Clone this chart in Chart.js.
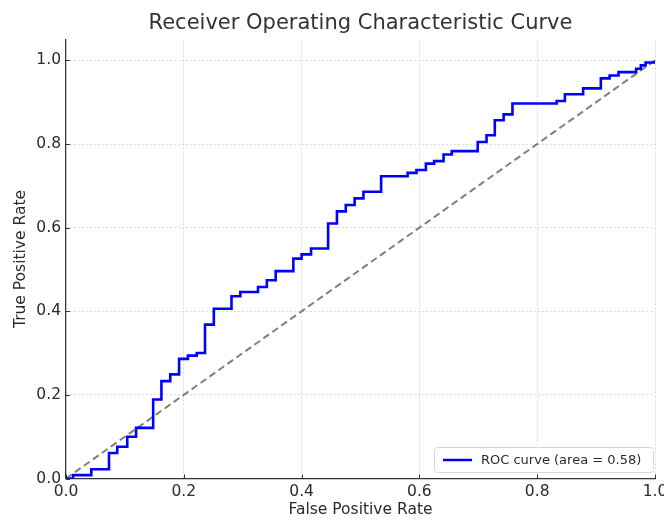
<!DOCTYPE html>
<html>
<head>
<meta charset="utf-8">
<script src="https://cdn.jsdelivr.net/npm/chart.js@4"></script>
<style>
  html, body { margin: 0; padding: 0; background: #fff; }
  #wrap { width: 664px; height: 521px; position: relative; }
</style>
</head>
<body>
<div id="wrap"><canvas id="rocChart"></canvas></div>
<script>
// ROC curve corners
const fpr = [0.0, 0.012, 0.043, 0.073, 0.087, 0.104, 0.119, 0.148, 0.162, 0.177, 0.192, 0.207, 0.222,
  0.236, 0.251, 0.281, 0.296, 0.326, 0.341, 0.356, 0.386, 0.400, 0.416, 0.445, 0.460, 0.475, 0.490,
  0.505, 0.535, 0.580, 0.595, 0.611, 0.625, 0.641, 0.655, 0.699, 0.714, 0.728, 0.743, 0.758, 0.833,
  0.847, 0.878, 0.908, 0.923, 0.938, 0.968, 0.976, 0.984, 1.0];
const tpr = [0.0, 0.008, 0.022, 0.061, 0.076, 0.100, 0.121, 0.189, 0.233, 0.249, 0.286, 0.294, 0.300,
  0.368, 0.406, 0.436, 0.446, 0.458, 0.474, 0.496, 0.526, 0.536, 0.550, 0.610, 0.639, 0.654, 0.670,
  0.686, 0.723, 0.731, 0.738, 0.753, 0.759, 0.775, 0.783, 0.805, 0.821, 0.857, 0.871, 0.897, 0.903,
  0.919, 0.933, 0.957, 0.964, 0.972, 0.980, 0.988, 0.995, 1.0];
const chanceLine = [0, 1];
const xTicks = [0, 0.2, 0.4, 0.6, 0.8, 1.0];
const yTicks = [0, 0.2, 0.4, 0.6, 0.8, 1.0];
const rocLabel = 'ROC curve (area = 0.58)';

const FONT = "'DejaVu Sans', sans-serif";
const TEXT = '#2b2b2b';

// title centred over the plot area, inward tick marks, legend box in lower right
const extras = {
  id: 'extras',
  afterDraw(chart) {
    const ctx = chart.ctx;
    const area = chart.chartArea;
    const xs = chart.scales.x, ys = chart.scales.y;
    ctx.save();

    // title
    ctx.fillStyle = '#333';
    ctx.font = '21px ' + FONT;
    ctx.textAlign = 'center';
    ctx.textBaseline = 'middle';
    ctx.fillText('Receiver Operating Characteristic Curve', (area.left + area.right) / 2, 24);

    // ticks pointing inwards
    ctx.strokeStyle = '#333';
    ctx.lineWidth = 1;
    ctx.beginPath();
    xTicks.forEach(v => {
      const px = Math.round(xs.getPixelForValue(v)) + 0.5;
      ctx.moveTo(px, area.bottom);
      ctx.lineTo(px, area.bottom - 4);
    });
    yTicks.forEach(v => {
      const py = Math.round(ys.getPixelForValue(v)) + 0.5;
      ctx.moveTo(area.left, py);
      ctx.lineTo(area.left + 4, py);
    });
    ctx.stroke();

    // legend
    const bx = 434, by = 447, bw = 219, bh = 25;
    ctx.fillStyle = 'rgba(255,255,255,0.85)';
    ctx.strokeStyle = '#d6d6d6';
    ctx.beginPath();
    ctx.roundRect(bx + 0.5, by + 0.5, bw, bh, 3);
    ctx.fill();
    ctx.stroke();
    ctx.strokeStyle = '#0000ff';
    ctx.lineWidth = 2.5;
    ctx.beginPath();
    ctx.moveTo(bx + 9, by + 13);
    ctx.lineTo(bx + 38, by + 13);
    ctx.stroke();
    ctx.fillStyle = TEXT;
    ctx.font = '13px ' + FONT;
    ctx.textAlign = 'left';
    ctx.fillText(chart.data.datasets[0].label, bx + 47, by + 13.5);

    ctx.restore();
  }
};

const ctx = document.getElementById('rocChart').getContext('2d');
const rocChart = new Chart(ctx, {
  type: 'line',
  data: {
    datasets: [
      {
        label: rocLabel,
        data: fpr.map((x, i) => ({ x: x, y: tpr[i] })),
        borderColor: '#0000ff',
        borderWidth: 2.6,
        pointRadius: 0,
        fill: false,
        stepped: 'before'
      },
      {
        label: 'chance',
        data: chanceLine.map(v => ({ x: v, y: v })),
        borderColor: '#7f7f7f',
        borderWidth: 2,
        borderDash: [7, 4],
        pointRadius: 0,
        fill: false
      }
    ]
  },
  options: {
    responsive: true,
    maintainAspectRatio: false,
    animation: false,
    devicePixelRatio: 1,
    layout: { padding: { top: 39.5, right: 9, left: 0, bottom: 0 } },
    plugins: {
      legend: { display: false },
      title: { display: false },
      tooltip: { enabled: false }
    },
    scales: {
      x: {
        type: 'linear',
        min: 0,
        max: 1,
        afterFit: s => { s.height = 42.5; s.paddingRight = 0; s.paddingLeft = 0; },
        afterBuildTicks: s => { s.ticks = xTicks.map(v => ({ value: v })); },
        ticks: {
          padding: 4,
          color: TEXT,
          font: { family: FONT, size: 15.5 },
          maxRotation: 0,
          callback: v => Number(v).toFixed(1)
        },
        grid: { color: '#d9d9d9', drawTicks: false, lineWidth: 1, borderDash: [2, 2] },
        border: { display: true, color: '#333', width: 1.2, dash: [2, 2] },
        title: {
          display: true,
          text: 'False Positive Rate',
          color: TEXT,
          font: { family: FONT, size: 15.5 },
          padding: { top: 0, bottom: 2 }
        }
      },
      y: {
        type: 'linear',
        min: 0,
        max: 1.05,
        afterFit: s => { s.width = 66; },
        afterBuildTicks: s => { s.ticks = yTicks.map(v => ({ value: v })); },
        ticks: {
          padding: 5,
          color: TEXT,
          font: { family: FONT, size: 15.5 },
          callback: v => Number(v).toFixed(1)
        },
        grid: { color: '#d9d9d9', drawTicks: false, lineWidth: 1, borderDash: [2, 2] },
        border: { display: true, color: '#333', width: 1.2, dash: [2, 2] },
        title: {
          display: true,
          text: 'True Positive Rate',
          color: TEXT,
          font: { family: FONT, size: 15.5 },
          padding: { top: 12, bottom: 0 }
        }
      }
    }
  },
  plugins: [extras]
});
</script>
</body>
</html>
